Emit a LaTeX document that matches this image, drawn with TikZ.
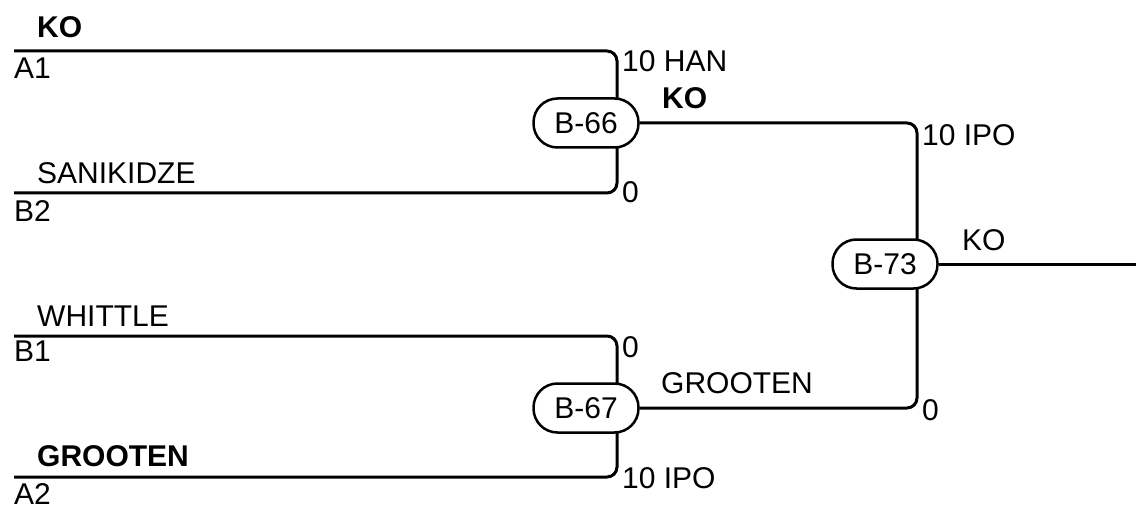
\documentclass[tikz,border=0pt]{standalone}
\usepackage{fontspec}
\setmainfont{Liberation Sans}
\usetikzlibrary{backgrounds}

\begin{document}
\begin{tikzpicture}[x=1pt,y=-1pt,
    bout/.style={draw,fill=white,line width=2.5pt,rounded corners=24pt,minimum width=105pt,
      minimum height=49pt,inner sep=0pt,font=\fontsize{30}{36}\selectfont},
    lbl/.style={anchor=base west,inner sep=0pt,font=\fontsize{30}{36}\selectfont},
    wire/.style={line width=3pt,rounded corners=10pt}]
  \useasboundingbox (0,0) rectangle (1136,508);
  % bouts
  \node[bout] (b66) at (586,123) {B-66};
  \node[bout] (b67) at (586,408) {B-67};
  \node[bout] (b73) at (885,264) {B-73};
  % line ends and joints
  \coordinate (a1) at (14,51);
  \coordinate (b2) at (14,193);
  \coordinate (b1) at (14,336);
  \coordinate (a2) at (14,477);
  \coordinate (j66) at (617,123);
  \coordinate (j67) at (617,408);
  \coordinate (j73) at (917,264);
  \coordinate (fin) at (1136,264);
  \begin{scope}[on background layer]
    \draw[wire] (a1) -| (j66);
    \draw[wire] (b2) -| (j66);
    \draw[wire] (b1) -| (j67);
    \draw[wire] (a2) -| (j67);
    \draw[wire] (b66.east) -| (j73);
    \draw[wire] (b67.east) -| (j73);
    \draw[wire] (b73.east) -- (fin);
  \end{scope}
  % names
  \node[lbl] (winA1) at (37,38) {\bfseries KO};
  \node[lbl] (posA1) at (14,79) {A1};
  \node[lbl] (nameB2) at (37,183) {SANIKIDZE};
  \node[lbl] (posB2) at (14,222) {B2};
  \node[lbl] (nameB1) at (37,326) {WHITTLE};
  \node[lbl] (posB1) at (14,361) {B1};
  \node[lbl] (nameA2) at (37,466) {\bfseries GROOTEN};
  \node[lbl] (posA2) at (14,504) {A2};
  % scores
  \node[lbl] (s66a) at (622,72) {10 HAN};
  \node[lbl] (s66b) at (622,203) {0};
  \node[lbl] (s67a) at (622,357) {0};
  \node[lbl] (s67b) at (622,488) {10 IPO};
  \node[lbl] (s73a) at (922,146) {10 IPO};
  \node[lbl] (s73b) at (922,420) {0};
  % winners
  \node[lbl] (w66) at (662,109) {\bfseries KO};
  \node[lbl] (w67) at (661,393) {GROOTEN};
  \node[lbl] (w73) at (962,251) {KO};
\end{tikzpicture}
\end{document}
